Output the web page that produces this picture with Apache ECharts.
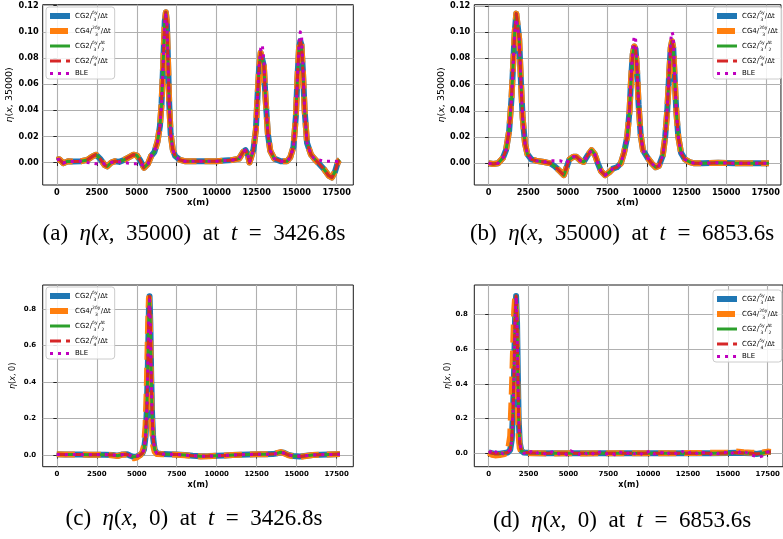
<!DOCTYPE html>
<html><head><meta charset="utf-8">
<script src="https://cdn.jsdelivr.net/npm/echarts@6/dist/echarts.min.js"></script>
<style>html,body{margin:0;padding:0;background:#fff}#c{width:783px;height:539px}</style>
</head><body><div id="c"></div>
<script>
// ---------- tick labels ----------
const xTicks = [0, 2500, 5000, 7500, 10000, 12500, 15000, 17500];
const yTicksTop = [0, 0.02, 0.04, 0.06, 0.08, 0.1, 0.12];
const yTicksBottom = [0, 0.2, 0.4, 0.6, 0.8];

// ---------- series names ----------
const seriesNames = ['CG2/(δy/3)/Δt', 'CG4/(2δy/3)/Δt', 'CG2/(δy/3)/(Δt/2)', 'CG2/(δy/4)/Δt', 'BLE'];

// ---------- panel (a): eta(x,35000), t = 3426.8 s ----------
const aX = [0,150,400,700,1000,1500,1900,2200,2450,2700,3000,3150,3400,3650,3900,4200,4500,4800,5000,5200,5450,5550,5700,5900,6100,6300,6450,6550,6650,6750,6820,6880,6950,7030,7120,7250,7400,7700,8000,9000,10000,10500,11000,11400,11650,11800,11950,12050,12150,12300,12450,12550,12650,12750,12850,12950,13050,13200,13350,13600,14000,14400,14600,14800,14950,15050,15150,15230,15300,15400,15500,15650,15900,16100,16400,16700,17000,17200,17400,17600,17700];
const aCG = [0.002,0.0025,-0.0005,0.001,0.0008, 0.001,0.002,0.0045,0.006,0.003, -0.002,-0.003,0.0,0.001,0.0005, 0.002,0.004,0.006,0.0055,0.002, -0.004,-0.0045,-0.001,0.005,0.008, 0.016,0.028,0.045,0.075,0.108, 0.115,0.108,0.080,0.045,0.022, 0.010,0.005,0.002,0.001,0.001, 0.001,0.0015,0.002,0.003,0.008, 0.0095,0.006,0.0,-0.001,0.010, 0.025,0.050,0.072,0.084,0.085, 0.074,0.050,0.022,0.009,0.003, 0.001,0.001,0.004,0.012,0.035, 0.065,0.088,0.093,0.090,0.068, 0.040,0.015,0.006,0.003,-0.001, -0.005,-0.010,-0.0115,-0.007,0.001, 0.002];
const aBLE = [0.002,0.0025,-0.0005,0.001,0.0008, 0.001,0.0,-0.0005,-0.001,-0.001, -0.001,-0.001,0.0,0.001,0.0005, 0.0,-0.0005,-0.001,-0.001,0.0, -0.003,-0.003,-0.001,0.005,0.008, 0.016,0.028,0.045,0.075,0.106, 0.113,0.107,0.080,0.045,0.022, 0.010,0.005,0.002,0.001,0.001, 0.001,0.0015,0.002,0.003,0.008, 0.0095,0.006,0.0,-0.001,0.010, 0.025,0.050,0.074,0.087,0.090, 0.078,0.052,0.022,0.009,0.003, 0.001,0.001,0.004,0.012,0.035, 0.065,0.092,0.100,0.098,0.072, 0.040,0.015,0.006,0.003,0.002, 0.001,0.001,0.001,0.0008,0.001, 0.002];

// ---------- panel (b): eta(x,35000), t = 6853.6 s ----------
const bX = [0,300,600,900,1100,1300,1450,1550,1650,1750,1830,1930,2050,2150,2300,2450,2700,3000,3500,3900,4200,4500,4750,4900,5100,5350,5550,5800,6000,6250,6500,6700,6900,7100,7350,7600,7850,8100,8350,8550,8750,8900,9000,9100,9200,9280,9370,9470,9600,9750,10050,10300,10550,10750,11000,11150,11280,11400,11500,11580,11660,11750,11850,11980,12150,12400,12700,13000,13500,14500,15500,16500,17700];
const bCG = [0,-0.0005,0,0.004,0.010, 0.025,0.050,0.075,0.100,0.114, 0.114,0.095,0.060,0.035,0.015, 0.007,0.003,0.002,0.001,0, -0.0025,-0.006,-0.009,-0.004,0.003, 0.005,0.005,0.002,0.001,0.006, 0.010,0.007,0,-0.006,-0.009, -0.007,-0.004,-0.003,0,0.008, 0.020,0.040,0.065,0.083,0.089, 0.087,0.072,0.045,0.022,0.010, 0.004,0,-0.003,-0.002,0.006, 0.020,0.040,0.068,0.088,0.093, 0.088,0.065,0.040,0.020,0.008, 0.003,0.001,0,0,0.0005, 0,0,0];
const bBLE = [0,-0.0005,0,0.004,0.010, 0.025,0.050,0.075,0.100,0.110, 0.111,0.095,0.060,0.035,0.015, 0.007,0.003,0.002,0.001,0.002, 0.002,0.002,0.001,0.0,0.003, 0.005,0.005,0.002,0.001,0.006, 0.010,0.007,0,-0.006,-0.009, -0.007,-0.004,-0.003,0,0.008, 0.020,0.042,0.068,0.088,0.097, 0.095,0.076,0.046,0.022,0.010, 0.004,0,-0.003,-0.002,0.006, 0.020,0.042,0.072,0.094,0.100, 0.097,0.068,0.040,0.020,0.008, 0.003,0.001,0,0,0.0005, 0,0,0];

// ---------- panel (c): eta(x,0), t = 3426.8 s ----------
const cX = [0,500,1000,1500,2000,2500,3000,3500,3800,4100,4400,4600,4800,5000,5200,5350,5450,5550,5630,5700,5760,5800,5850,5900,5960,6030,6120,6250,6600,7000,7500,8000,8500,9000,9500,10000,10500,11000,11500,12000,12500,13000,13500,13800,14000,14200,14500,14800,15200,15600,16000,16500,17000,17400,17700];
const cCG = [0.004,0.003,0.003,0.003,0.002, 0.002,0.002,0.0,-0.004,0.003, 0.004,-0.004,-0.010,-0.008,0.0, 0.010,0.030,0.100,0.250,0.520, 0.800,0.870,0.720,0.450,0.220, 0.090,0.030,0.010,0.005,0.004, 0.003,0.0,-0.004,-0.007,-0.006, -0.004,-0.002,0.0,0.002,0.003, 0.004,0.004,0.005,0.010,0.015, 0.012,0.0,-0.005,-0.008,-0.004, 0.0,0.002,0.003,0.004,0.005];
const cOR = [0.004,0.003,0.003,0.003,0.002, 0.002,0.001,-0.002,-0.006,0.002, 0.003,-0.008,-0.018,-0.014,-0.002, 0.015,0.050,0.160,0.380,0.680, 0.860,0.850,0.620,0.330,0.140, 0.050,0.018,0.006,0.004,0.003, 0.002,-0.001,-0.005,-0.008,-0.007, -0.004,-0.002,0.0,0.002,0.003, 0.004,0.004,0.006,0.012,0.016, 0.010,-0.002,-0.007,-0.010,-0.005, 0.0,0.002,0.003,0.004,0.005];
const cBLE = [0.003,0.002,0.003,0.002,0.002, 0.003,0.003,0.001,-0.002,0.002, 0.003,-0.003,-0.008,-0.006,0.0, 0.010,0.030,0.100,0.250,0.510, 0.790,0.850,0.710,0.450,0.220, 0.090,0.030,0.010,0.005,0.004, 0.003,0.0,-0.004,-0.007,-0.006, -0.004,-0.002,0.0,0.002,0.003, 0.004,0.004,0.005,0.009,0.013, 0.010,0.0,-0.004,-0.006,-0.003, 0.0,0.002,0.003,0.003,0.004];

// ---------- panel (d): eta(x,0), t = 6853.6 s ----------
const dX = [0,200,400,700,1000,1200,1350,1450,1530,1600,1660,1720,1780,1830,1880,1950,2050,2200,2600,3200,4000,5000,6000,7000,8000,9000,10000,11000,12000,13000,14000,15000,15500,16000,16500,16800,17200,17500,17700];
const dCG = [0.006,0.001,-0.003,-0.002,0.002, 0.005,0.020,0.080,0.250,0.500, 0.800,0.905,0.750,0.450,0.200, 0.060,0.015,0.005,0.002,0.001, 0.0,0.001,0.0,0.001,0.0, 0.001,0.0,0.001,0.0,0.001, 0.0,0.002,0.004,0.002,0.0, -0.004,0.002,0.008,0.008];
const dOR = [0.004,-0.008,-0.012,-0.010,-0.004, 0.010,0.100,0.350,0.600,0.820, 0.900,0.800,0.500,0.250,0.100, 0.030,0.008,0.003,0.001,0.0, -0.001,0.0,-0.001,0.0,0.0, 0.001,0.0,0.0,0.001,0.002, 0.003,0.005,0.010,0.006,0.004, 0.002,0.005,0.010,0.008];
const dBX = [0,150,300,450,600,750,900,1050,1200,1350,1450,1530,1600,1660,1720,1780,1830,1880,1950,2050,2200,2400,2650,2900,3150,3400,3650,3900,4150,4400,4650,4900,5150,5400,5650,5900,6150,6400,6650,6900,7150,7400,7650,7900,8150,8400,8650,8900,9150,9400,9650,9900,10150,10400,10650,10900,11150,11400,11650,11900,12150,12400,12650,12900,13150,13400,13650,13900,14150,14400,14650,14900,15150,15400,15650,15900,16150,16400,16650,16900,17150,17400,17650];
const dBLE = [0.004,0.010,-0.005,0.008,-0.004,0.006,-0.003,0.005,0.008, 0.020,0.080,0.250,0.500,0.800,0.900,0.740,0.440,0.200,0.060, 0.015,0.002, -0.008,
  0.010,-0.006,0.008,0.002,-0.009,0.006,0.012,-0.004,0.005,-0.008,
  0.014,0.002,-0.007,0.010,-0.003,0.008,-0.010,0.005,0.011,-0.004,
  0.006,-0.008,0.009,0.002,-0.006,0.012,-0.003,0.008,-0.009,0.005,
  0.016,-0.005,0.008,0.003,-0.010,0.009,0.002,-0.007,0.010,-0.004,
  0.006,0.011,-0.008,0.005,0.002,-0.007,0.009,-0.003,0.008,0.005,
  -0.008,0.010,0.003,0.017,0.005,-0.008,-0.014,-0.022,-0.016,0.005,
  0.010];

// ---------- captions ----------
const captions = [
  '{r|(a)  }{i|η}{r|(}{i|x}{r|,  35000)  at  }{i|t}{r|  =  3426.8s}',
  '{r|(b)  }{i|η}{r|(}{i|x}{r|,  35000)  at  }{i|t}{r|  =  6853.6s}',
  '{r|(c)  }{i|η}{r|(}{i|x}{r|,  0)  at  }{i|t}{r|  =  3426.8s}',
  '{r|(d)  }{i|η}{r|(}{i|x}{r|,  0)  at  }{i|t}{r|  =  6853.6s}'
];
const yNames = ['{i|η}({i|x}, 35000)', '{i|η}({i|x}, 35000)', '{i|η}({i|x}, 0)', '{i|η}({i|x}, 0)'];

// ---------- layout / style (not data) ----------
const styles = [
  {color:'#1f77b4', width:6, type:'solid'},
  {color:'#ff7f0e', width:6, type:[18,8]},
  {color:'#2ca02c', width:3, type:'solid'},
  {color:'#d62728', width:3, type:[11,5]},
  {color:'#bf00bf', width:3, type:[3,5]}
];
const legendText = {
  'CG2/(δy/3)/Δt': '{t|CG2/}{n|δy}{d|3}{t|/Δt}',
  'CG4/(2δy/3)/Δt': '{t|CG4/}{n|2δy}{e|3}{t|/Δt}',
  'CG2/(δy/3)/(Δt/2)': '{t|CG2/}{n|δy}{d|3}{t|/}{n|Δt}{d|2}',
  'CG2/(δy/4)/Δt': '{t|CG2/}{n|δy}{d|4}{t|/Δt}',
  'BLE': '{t|BLE}'
};
const panels = [
  {grid:{left:42.7, top:4.7, width:310.6, height:180.3}, xMin:-883, xMax:18543, yMin:-0.0172, yMax:0.1208,
   yTicks:yTicksTop, dec:2, tickFont:8.2, xNameFont:8.5, yNameFont:9.5, yNameGap:26, xNameGap:13, yLabM:4, xLabM:4,
   legend:{left:46, top:7}, caption:{x:194, y:234},
   lines:[[aX,aCG],[aX,aCG],[aX,aCG],[aX,aCG],[aX,aBLE]]},
  {grid:{left:474.3, top:4.7, width:309, height:180.3}, xMin:-902, xMax:18459, yMin:-0.0165, yMax:0.1208,
   yTicks:yTicksTop, dec:2, tickFont:8.2, xNameFont:8.5, yNameFont:9.5, yNameGap:26.5, xNameGap:13, yLabM:4, xLabM:4,
   legend:{right:1.3, top:7}, caption:{x:622, y:234},
   lines:[[bX,bCG],[bX,bCG],[bX,bCG],[bX,bCG],[bX,bBLE]]},
  {grid:{left:42.7, top:285, width:310.6, height:181.7}, xMin:-883, xMax:18543, yMin:-0.064, yMax:0.9315,
   yTicks:yTicksBottom, dec:1, tickFont:7, xNameFont:8, yNameFont:8, yNameGap:25.5, xNameGap:14.5, yLabM:6.5, xLabM:3.5,
   legend:{left:46, top:287}, caption:{x:194, y:519},
   lines:[[cX,cCG],[cX,cOR],[cX,cCG],[cX,cCG],[cX,cBLE]]},
  {grid:{left:474.3, top:285, width:309, height:181.7}, xMin:-902, xMax:18459, yMin:-0.077, yMax:0.969,
   yTicks:yTicksBottom, dec:1, tickFont:7, xNameFont:8, yNameFont:8, yNameGap:20, xNameGap:14.5, yLabM:6.5, xLabM:3.5,
   legend:{right:1.3, top:290}, caption:{x:622, y:521},
   lines:[[dX,dCG],[dX,dOR],[dX,dCG],[dX,dCG],[dBX,dBLE]]}
];

const FONT = 'DejaVu Sans';
const pair = (X, Y) => X.map((x, i) => [x, Y[i]]);

const grid = [], xAxis = [], yAxis = [], series = [], legend = [], graphic = [];
panels.forEach((p, k) => {
  grid.push(Object.assign({show:true, borderColor:'#1a1a1a', borderWidth:1, backgroundColor:'rgba(0,0,0,0)', containLabel:false}, p.grid));
  xAxis.push({
    type:'value', gridIndex:k, min:p.xMin, max:p.xMax,
    name:'x(m)', nameLocation:'middle', nameGap:p.xNameGap,
    nameTextStyle:{fontFamily:FONT, fontWeight:'bold', fontSize:p.xNameFont, color:'#000'},
    axisLine:{show:false},
    axisTick:{show:true, inside:false, length:3.5, lineStyle:{color:'#000', width:0.8}, customValues:xTicks},
    axisLabel:{show:true, margin:p.xLabM, fontFamily:FONT, fontWeight:'bold', fontSize:p.tickFont, color:'#000',
               customValues:xTicks, formatter:v => String(v)},
    splitLine:{show:true, lineStyle:{color:'#b0b0b0', width:1.1}}
  });
  yAxis.push({
    type:'value', gridIndex:k, min:p.yMin, max:p.yMax,
    name:yNames[k], nameLocation:'middle', nameGap:p.yNameGap, nameRotate:90,
    nameTextStyle:{fontFamily:FONT, fontSize:p.yNameFont, color:'#000',
                   rich:{i:{fontFamily:FONT, fontStyle:'italic', fontSize:p.yNameFont, color:'#000'}}},
    axisLine:{show:false},
    axisTick:{show:true, inside:false, length:3.5, lineStyle:{color:'#000', width:0.8}, customValues:p.yTicks},
    axisLabel:{show:true, margin:p.yLabM, fontFamily:FONT, fontWeight:'bold', fontSize:p.tickFont, color:'#000',
               customValues:p.yTicks, formatter:v => v.toFixed(p.dec)},
    splitLine:{show:true, lineStyle:{color:'#b0b0b0', width:1.1}}
  });
  p.lines.forEach((xy, s) => {
    const st = styles[s];
    series.push({
      type:'line', name:seriesNames[s], xAxisIndex:k, yAxisIndex:k,
      data:pair(xy[0], xy[1]), symbol:'none', showSymbol:false, silent:true, clip:true,
      lineStyle:{color:st.color, width:st.width, type:st.type, cap:'butt', join:'round'},
      itemStyle:{color:st.color}, z:2 + s
    });
  });
  legend.push(Object.assign({
    orient:'vertical', align:'left', padding:[3,4,2,1], itemWidth:20, itemHeight:8, itemGap:3,
    backgroundColor:'rgba(255,255,255,0.85)', borderColor:'#cccccc', borderWidth:1, borderRadius:3,
    selectedMode:false, data:seriesNames, lineStyle:{width:'inherit'},
    itemStyle:{opacity:0, borderWidth:0},
    formatter:name => legendText[name],
    textStyle:{fontFamily:FONT, fontSize:7, color:'#000',
      rich:{
        t:{fontFamily:FONT, fontSize:7, lineHeight:12, color:'#000'},
        n:{fontFamily:FONT, fontSize:4.5, lineHeight:5.5, verticalAlign:'top', width:0, color:'#000'},
        d:{fontFamily:FONT, fontSize:4.5, lineHeight:5.5, verticalAlign:'bottom', padding:[0,1.5,0,1.3], color:'#000'},
        e:{fontFamily:FONT, fontSize:4.5, lineHeight:5.5, verticalAlign:'bottom', padding:[0,2.8,0,3], color:'#000'}
      }}
  }, p.legend));
  graphic.push({
    type:'text', x:p.caption.x, y:p.caption.y, silent:true,
    style:{text:captions[k], align:'center', verticalAlign:'middle',
      rich:{
        r:{fontFamily:'Liberation Serif', fontSize:23, color:'#000'},
        i:{fontFamily:'Liberation Serif', fontStyle:'italic', fontSize:23, color:'#000'}
      }}
  });
});

const chart = echarts.init(document.getElementById('c'), null, {renderer:'canvas', width:783, height:539});
chart.setOption({
  animation:false, backgroundColor:'#ffffff',
  textStyle:{fontFamily:FONT},
  grid, xAxis, yAxis, series, legend, graphic
});
</script>
</body></html>
